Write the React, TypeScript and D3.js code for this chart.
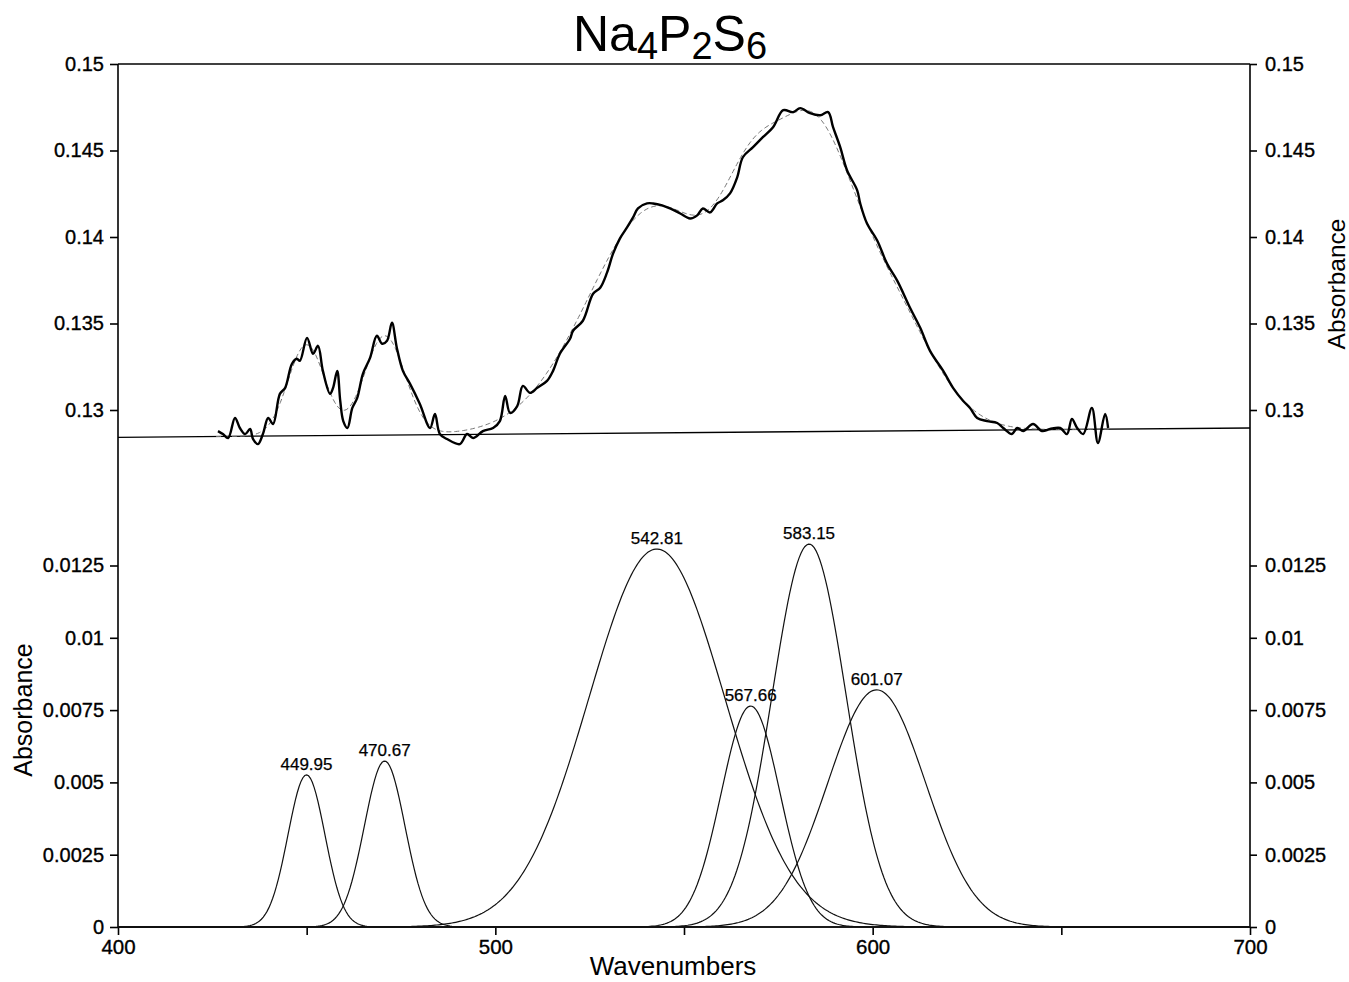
import React from 'react';
import * as d3 from 'd3';

const measuredWn = [
  426.5, 427.8, 429.2, 431.0, 432.3, 433.7, 435.0, 435.8, 437.1, 438.4, 439.8, 441.1,
  442.9, 444.3, 446.1, 447.4, 448.2, 450.1, 451.7, 453.0, 454.3, 456.2, 457.0, 458.1,
  458.9, 459.7, 460.8, 462.1, 463.4, 464.9, 466.8, 468.6, 470.0, 471.3, 472.6, 473.9,
  475.5, 477.4, 480.0, 482.7, 484.0, 485.3, 487.2, 490.6, 492.5, 494.1, 496.7, 499.4,
  501.2, 502.6, 503.9, 505.8, 507.3, 509.2, 511.1, 513.7, 515.3, 517.1, 519.8, 520.6,
  523.2, 525.9, 527.8, 529.6, 531.2, 533.0, 534.9, 536.5, 537.8, 540.2, 541.8, 544.2,
  546.3, 549.0, 551.6, 553.5, 555.0, 556.9, 558.8, 560.3, 562.2, 564.1, 565.6, 568.3,
  570.9, 573.6, 576.3, 578.9, 580.8, 583.4, 586.1, 588.2, 589.5, 591.4, 593.2, 595.9,
  596.7, 598.5, 601.2, 603.8, 606.5, 609.9, 612.6, 615.2, 618.7, 621.3, 624.0, 625.8,
  627.7, 630.3, 633.0, 634.6, 636.9, 638.3, 639.9, 642.5, 644.9, 647.0, 649.7, 651.5,
  652.8, 654.2, 655.8, 658.1, 659.7, 661.6, 662.4,
];
const measuredAbs = [
  0.12878, 0.12861, 0.12838, 0.12954, 0.12896, 0.12861, 0.1289, 0.12832, 0.12803, 0.12861, 0.12954, 0.12919,
  0.13093, 0.13128, 0.13267, 0.13296, 0.13284, 0.13417, 0.13325, 0.13371, 0.13226, 0.13093, 0.13128, 0.13226,
  0.13052, 0.12936, 0.12896, 0.13012, 0.1307, 0.13209, 0.13301, 0.13429, 0.13383, 0.134, 0.13504, 0.13359,
  0.13226, 0.13151, 0.13035, 0.12896, 0.12977, 0.12861, 0.12832, 0.12803, 0.12861, 0.12838, 0.12878, 0.12896,
  0.12936, 0.13081, 0.12983, 0.13023, 0.13139, 0.13099, 0.13128, 0.13168, 0.13226, 0.13325, 0.13412, 0.13458,
  0.13516, 0.13672, 0.13707, 0.13794, 0.13904, 0.13991, 0.14055, 0.14113, 0.14165, 0.14194, 0.14194, 0.14183,
  0.14165, 0.14136, 0.14107, 0.14125, 0.14165, 0.14142, 0.14194, 0.14212, 0.14252, 0.14345, 0.14461, 0.14519,
  0.14577, 0.14635, 0.14733, 0.14722, 0.14745, 0.14716, 0.14704, 0.14722, 0.14635, 0.14519, 0.14386, 0.1427,
  0.14194, 0.14078, 0.1398, 0.13846, 0.13748, 0.13591, 0.13475, 0.13342, 0.13226, 0.13128, 0.13052, 0.13012,
  0.12954, 0.12936, 0.12925, 0.12896, 0.12861, 0.12896, 0.12878, 0.12919, 0.12878, 0.1289, 0.12896, 0.12861,
  0.12948, 0.12896, 0.12861, 0.13012, 0.12809, 0.12977, 0.12896,
];

// fitted gaussian components (lower panel)
const peakCenters = [449.95, 470.67, 542.81, 567.66, 583.15, 601.07];
const peakHeights = [0.00526, 0.00574, 0.01307, 0.00764, 0.01324, 0.0082];
const peakSigmas = [4.9, 5.4, 18, 7.8, 9.8, 13];

// linear baseline under the spectrum
const baselineWn = [400, 700];
const baselineAbs = [0.12842, 0.12896];

const topTicks = [0.13, 0.135, 0.14, 0.145, 0.15];
const bottomTicks = [0, 0.0025, 0.005, 0.0075, 0.01, 0.0125];
const xTicks = [400, 450, 500, 550, 600, 650, 700];

const FONT = '"Liberation Sans", Arial, Helvetica, sans-serif';

const App = () => {
  const ref = React.useRef<SVGSVGElement>(null);

  React.useEffect(() => {
    const svg = d3.select(ref.current);
    svg.selectAll('*').remove();

    const x = d3.scaleLinear().domain([400, 700]).range([118, 1250]);
    const yTop = d3.scaleLinear().domain([0.13, 0.15]).range([410, 64]);
    const yBot = d3.scaleLinear().domain([0, 0.0125]).range([927, 565.5]);

    const gauss = (i: number, w: number) =>
      peakHeights[i] * Math.exp(-((w - peakCenters[i]) ** 2) / (2 * peakSigmas[i] ** 2));
    const baseAt = d3.scaleLinear().domain(baselineWn).range(baselineAbs);

    // frame: top line + both vertical axes + zero line
    const frame = svg.append('g').attr('stroke', '#000').attr('stroke-width', 1.6);
    frame.append('line').attr('x1', 118).attr('x2', 1250).attr('y1', 64).attr('y2', 64);
    frame.append('line').attr('x1', 118).attr('x2', 118).attr('y1', 64).attr('y2', 927);
    frame.append('line').attr('x1', 1250).attr('x2', 1250).attr('y1', 64).attr('y2', 927);
    frame.append('line').attr('x1', 118).attr('x2', 1250).attr('y1', 927).attr('y2', 927);

    const styleAxis = (g: any, size: number) => {
      g.select('.domain').remove();
      g.selectAll('line').attr('stroke', '#000').attr('stroke-width', 1.6);
      g.selectAll('text').attr('font-family', FONT).attr('font-size', size).attr('fill', '#000')
        .attr('stroke', '#000').attr('stroke-width', 0.35);
    };

    const fmt = (d: any) => String(d);
    svg.append('g').attr('transform', 'translate(118,0)')
      .call(d3.axisLeft(yTop).tickValues(topTicks).tickFormat(fmt).tickSize(8).tickPadding(6))
      .call((g: any) => styleAxis(g, 20));
    svg.append('g').attr('transform', 'translate(1250,0)')
      .call(d3.axisRight(yTop).tickValues(topTicks).tickFormat(fmt).tickSize(7).tickPadding(8))
      .call((g: any) => styleAxis(g, 20));
    svg.append('g').attr('transform', 'translate(118,0)')
      .call(d3.axisLeft(yBot).tickValues(bottomTicks).tickFormat(fmt).tickSize(8).tickPadding(6))
      .call((g: any) => styleAxis(g, 20));
    svg.append('g').attr('transform', 'translate(1250,0)')
      .call(d3.axisRight(yBot).tickValues(bottomTicks).tickFormat(fmt).tickSize(7).tickPadding(8))
      .call((g: any) => styleAxis(g, 20));
    svg.append('g').attr('transform', 'translate(0,927)')
      .call(d3.axisBottom(x).tickValues(xTicks)
        .tickFormat((d: any) => (d % 100 === 0 ? String(d) : '')).tickSize(8).tickPadding(4))
      .call((g: any) => styleAxis(g, 20.5));

    // upper panel: baseline, fit, measured
    svg.append('path')
      .attr('d', d3.line<number>().x((w) => x(w)).y((w, i) => yTop(baselineAbs[i]))(baselineWn))
      .attr('fill', 'none').attr('stroke', '#000').attr('stroke-width', 1.3);

    const fitGrid = d3.range(426, 663.01, 0.5);
    const fitLine = d3.line<number>()
      .x((w) => x(w))
      .y((w) => yTop(baseAt(w) + d3.sum(peakCenters, (_, i) => gauss(i, w))));
    svg.append('path').attr('d', fitLine(fitGrid))
      .attr('fill', 'none').attr('stroke', '#777').attr('stroke-width', 1)
      .attr('stroke-dasharray', '5,3');

    const measLine = d3.line<number>().x((w) => x(w)).y((w, i) => yTop(measuredAbs[i]))
      .curve(d3.curveCatmullRom);
    svg.append('path').attr('d', measLine(measuredWn))
      .attr('fill', 'none').attr('stroke', '#000').attr('stroke-width', 2.4)
      .attr('stroke-linejoin', 'round');

    // lower panel: components
    const grid = d3.range(400, 700.01, 0.5);
    peakCenters.forEach((c, i) => {
      const line = d3.line<number>().x((w) => x(w)).y((w) => yBot(gauss(i, w)));
      svg.append('path').attr('d', line(grid))
        .attr('fill', 'none').attr('stroke', '#111').attr('stroke-width', 1.2);
      svg.append('text')
        .attr('x', x(c)).attr('y', yBot(peakHeights[i]) - 5)
        .attr('text-anchor', 'middle').attr('font-family', FONT).attr('font-size', 17)
        .attr('stroke', '#000').attr('stroke-width', 0.25)
        .text(c.toFixed(2));
    });

    // titles
    const title = svg.append('text').attr('x', 670).attr('y', 51)
      .attr('text-anchor', 'middle').attr('font-family', FONT).attr('font-size', 50);
    const parts: [string, boolean][] = [['Na', false], ['4', true], ['P', false], ['2', true], ['S', false], ['6', true]];
    parts.forEach(([t, sub], i) => {
      const prevSub = i > 0 && parts[i - 1][1];
      title.append('tspan')
        .attr('font-size', sub ? 38 : 50)
        .attr('dy', sub ? 8 : prevSub ? -8 : 0)
        .text(t);
    });

    svg.append('text').attr('x', 673).attr('y', 975)
      .attr('text-anchor', 'middle').attr('font-family', FONT).attr('font-size', 26)
      .text('Wavenumbers');
    svg.append('text').attr('transform', 'translate(32,710) rotate(-90)')
      .attr('text-anchor', 'middle').attr('font-family', FONT).attr('font-size', 25)
      .text('Absorbance');
    svg.append('text').attr('transform', 'translate(1345,284) rotate(-90)')
      .attr('text-anchor', 'middle').attr('font-family', FONT).attr('font-size', 24.5)
      .text('Absorbance');
  }, []);

  return (
    <svg ref={ref} width={1349} height={982}
      style={{ position: 'absolute', left: 0, top: 0, background: '#fff' }} />
  );
};

export default App;
